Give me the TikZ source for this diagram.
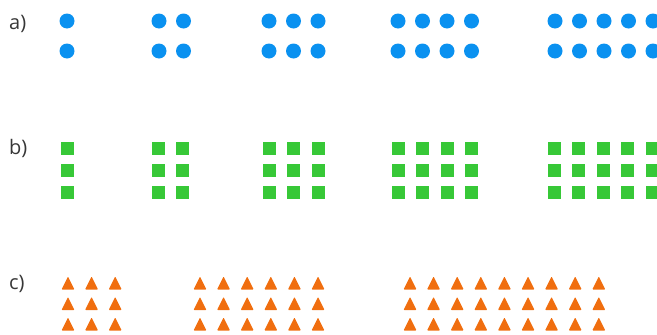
\documentclass[tikz,border=0pt]{standalone}
\usepackage{fontspec}
\setmainfont{Open Sans}
\usetikzlibrary{positioning}
\definecolor{dotblue}{RGB}{10,145,240}
\definecolor{boxgreen}{RGB}{55,200,55}
\definecolor{triorange}{RGB}{240,110,15}
\definecolor{labelgray}{RGB}{55,55,55}
\tikzset{
  rowlabel/.style={anchor=base west, inner sep=0pt, text=labelgray, font=\fontsize{20}{20}\selectfont},
}
\begin{document}
\begin{tikzpicture}[x=1pt, y=-1pt]
\clip (0,0) rectangle (657,335);
\useasboundingbox (0,0) rectangle (657,335);
% row a: dots, two rows, 1 to 5 columns
\node[rowlabel] (la) at (9,29) {a)};
\foreach \n/\gx in {1/67, 2/159, 3/269, 4/398, 5/555} {
  \foreach \c in {1,...,\n} {
    \foreach \r in {0,1} {
      \fill[dotblue] ({\gx+(\c-1)*24.5}, {21+\r*30}) circle (7.5);
    }
  }
}
% row b: squares, three rows, 1 to 5 columns
\node[rowlabel] (lb) at (9,154) {b)};
\foreach \n/\gx in {1/67.5, 2/158, 3/269, 4/398, 5/554} {
  \foreach \c in {1,...,\n} {
    \foreach \r in {0,1,2} {
      \fill[boxgreen] ({\gx+(\c-1)*24.5-6.5}, {148+\r*22-6.5}) rectangle +(13,13);
    }
  }
}
% row c: triangles, three rows, 3, 6 and 9 columns
\node[rowlabel] (lc) at (9,289) {c)};
\foreach \n/\gx in {3/68, 6/200, 9/410} {
  \foreach \c in {1,...,\n} {
    \foreach \r in {0,1,2} {
      \fill[triorange, rounded corners=0.8pt] ({\gx+(\c-1)*23.6-6.5}, {289.5+\r*20.5})
        -- ++(13,0) -- ++(-6.5,-13) -- cycle;
    }
  }
}
\end{tikzpicture}
\end{document}
